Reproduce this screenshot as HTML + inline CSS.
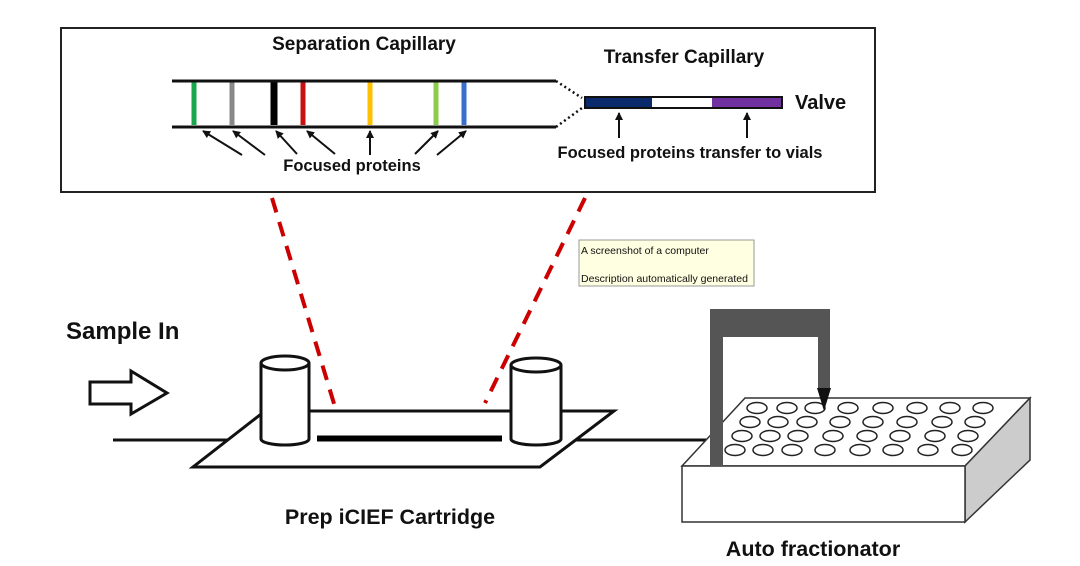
<!DOCTYPE html>
<html><head><meta charset="utf-8"><style>
html,body{margin:0;padding:0;background:#fff;}
svg{display:block;}
text{font-family:"Liberation Sans",sans-serif;font-weight:bold;fill:#111;}
</style></head><body>
<svg width="1080" height="566" viewBox="0 0 1080 566" xmlns="http://www.w3.org/2000/svg">
<defs>
<marker id="ah" markerWidth="8" markerHeight="8" refX="7" refY="4" orient="auto" markerUnits="userSpaceOnUse">
<path d="M0,0 L8,4 L0,8 z" fill="#111"/></marker>
</defs>
<rect x="61" y="28" width="814" height="164" fill="#fff" stroke="#222" stroke-width="2"/>
<text x="364" y="50" font-size="19" text-anchor="middle">Separation Capillary</text>
<text x="684" y="63" font-size="19" text-anchor="middle">Transfer Capillary</text>
<g stroke-width="5">
<line x1="194" y1="82" x2="194" y2="125" stroke="#1aa64a"/>
<line x1="232" y1="82" x2="232" y2="125" stroke="#888"/>
<line x1="274" y1="82" x2="274" y2="125" stroke="#000" stroke-width="7"/>
<line x1="303" y1="82" x2="303" y2="125" stroke="#c81010"/>
<line x1="370" y1="82" x2="370" y2="125" stroke="#ffc000"/>
<line x1="436" y1="82" x2="436" y2="125" stroke="#8dcc4a"/>
<line x1="464" y1="82" x2="464" y2="125" stroke="#3a6fcc"/>
</g>
<line x1="172" y1="81" x2="556" y2="81" stroke="#111" stroke-width="3"/>
<line x1="172" y1="127" x2="556" y2="127" stroke="#111" stroke-width="3"/>
<path d="M556,81 L582,98 M556,127 L582,108" stroke="#111" stroke-width="2.5" stroke-dasharray="2 3"/>
<rect x="585" y="97" width="197" height="11" fill="#fff" stroke="#111" stroke-width="2"/>
<rect x="586" y="98" width="66" height="9" fill="#0b2a6b"/>
<rect x="712" y="98" width="69" height="9" fill="#7030a0"/>
<text x="795" y="109" font-size="20">Valve</text>
<g stroke="#111" stroke-width="2" marker-end="url(#ah)">
<line x1="242" y1="155" x2="203" y2="131"/>
<line x1="265" y1="155" x2="233" y2="131"/>
<line x1="297" y1="154" x2="276" y2="131"/>
<line x1="335" y1="154" x2="307" y2="131"/>
<line x1="370" y1="155" x2="370" y2="131"/>
<line x1="415" y1="154" x2="438" y2="131"/>
<line x1="437" y1="155" x2="466" y2="131"/>
<line x1="619" y1="138" x2="619" y2="113"/>
<line x1="747" y1="138" x2="747" y2="113"/>
</g>
<text x="352" y="171" font-size="16.5" text-anchor="middle">Focused proteins</text>
<text x="690" y="158" font-size="16.5" text-anchor="middle">Focused proteins transfer to vials</text>
<g stroke="#c00" stroke-width="4" stroke-dasharray="15 10">
<line x1="272" y1="198" x2="335" y2="407"/>
<line x1="585" y1="198" x2="485" y2="403"/>
</g>
<rect x="579" y="240" width="175" height="46" fill="#ffffe1" stroke="#999" stroke-width="1"/>
<text x="581" y="254" font-size="10.5" style="font-weight:normal">A screenshot of a computer</text>
<text x="581" y="282" font-size="10.5" style="font-weight:normal">Description automatically generated</text>
<text x="66" y="339" font-size="24">Sample In</text>
<path d="M90,382 L131,382 L131,371 L167,393 L131,414 L131,404 L90,404 Z" fill="#fff" stroke="#111" stroke-width="3"/>
<line x1="113" y1="440" x2="710" y2="440" stroke="#111" stroke-width="3"/>
<polygon points="193,467 540,467 614,411 265,411" fill="#fff" stroke="#111" stroke-width="3"/>
<line x1="317" y1="438.5" x2="502" y2="438.5" stroke="#000" stroke-width="6"/>
<g fill="#fff" stroke="#111" stroke-width="3">
<path d="M261,363 L261,439 A24,6 0 0 0 309,439 L309,363"/>
<ellipse cx="285" cy="363" rx="24" ry="7"/>
<path d="M511,365 L511,439 A25,6 0 0 0 561,439 L561,365"/>
<ellipse cx="536" cy="365" rx="25" ry="7"/>
</g>
<text x="390" y="524" font-size="21.5" text-anchor="middle">Prep iCIEF Cartridge</text>
<polygon points="682,466 745,398 1030,398 965,466" fill="#fff" stroke="#333" stroke-width="1.5"/>
<polygon points="965,466 1030,398 1030,460 965,522" fill="#ccc" stroke="#333" stroke-width="1.5"/>
<rect x="682" y="466" width="283" height="56" fill="#fff" stroke="#333" stroke-width="1.5"/>
<g fill="none" stroke="#222" stroke-width="1.5">
<ellipse cx="757" cy="408" rx="10" ry="5.5"/><ellipse cx="787" cy="408" rx="10" ry="5.5"/><ellipse cx="815" cy="408" rx="10" ry="5.5"/><ellipse cx="848" cy="408" rx="10" ry="5.5"/><ellipse cx="883" cy="408" rx="10" ry="5.5"/><ellipse cx="917" cy="408" rx="10" ry="5.5"/><ellipse cx="950" cy="408" rx="10" ry="5.5"/><ellipse cx="983" cy="408" rx="10" ry="5.5"/>
<ellipse cx="750" cy="422" rx="10" ry="5.5"/><ellipse cx="778" cy="422" rx="10" ry="5.5"/><ellipse cx="807" cy="422" rx="10" ry="5.5"/><ellipse cx="840" cy="422" rx="10" ry="5.5"/><ellipse cx="873" cy="422" rx="10" ry="5.5"/><ellipse cx="907" cy="422" rx="10" ry="5.5"/><ellipse cx="942" cy="422" rx="10" ry="5.5"/><ellipse cx="975" cy="422" rx="10" ry="5.5"/>
<ellipse cx="742" cy="436" rx="10" ry="5.5"/><ellipse cx="770" cy="436" rx="10" ry="5.5"/><ellipse cx="798" cy="436" rx="10" ry="5.5"/><ellipse cx="833" cy="436" rx="10" ry="5.5"/><ellipse cx="867" cy="436" rx="10" ry="5.5"/><ellipse cx="900" cy="436" rx="10" ry="5.5"/><ellipse cx="935" cy="436" rx="10" ry="5.5"/><ellipse cx="968" cy="436" rx="10" ry="5.5"/>
<ellipse cx="735" cy="450" rx="10" ry="5.5"/><ellipse cx="763" cy="450" rx="10" ry="5.5"/><ellipse cx="792" cy="450" rx="10" ry="5.5"/><ellipse cx="825" cy="450" rx="10" ry="5.5"/><ellipse cx="860" cy="450" rx="10" ry="5.5"/><ellipse cx="893" cy="450" rx="10" ry="5.5"/><ellipse cx="928" cy="450" rx="10" ry="5.5"/><ellipse cx="962" cy="450" rx="10" ry="5.5"/>
</g>
<path d="M710,466 L710,309 L830,309 L830,388 L818,388 L818,337 L723,337 L723,466 Z" fill="#555"/>
<polygon points="817,388 831,388 824,411" fill="#111"/>
<text x="813" y="556" font-size="21.5" text-anchor="middle">Auto fractionator</text>
</svg>
</body></html>
